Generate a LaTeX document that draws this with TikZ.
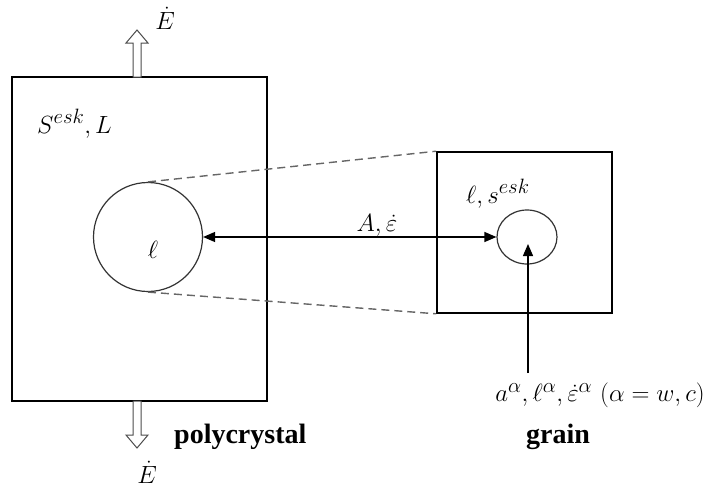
\documentclass[tikz,border=0pt]{standalone}
\usepackage{fontspec}
\setmainfont{Liberation Serif}
\usetikzlibrary{arrows.meta,shapes.geometric}
\tikzset{
  boxframe/.style={draw, line width=1.6pt, inner sep=0pt},
  dashlink/.style={draw=black!60, line width=1.4pt, dash pattern=on 8pt off 5pt},
  arr/.style={line width=1.3pt, -{Triangle[length=12pt,width=10pt]}},
  dblarr/.style={line width=1.3pt, {Triangle[length=12pt,width=10pt]}-{Triangle[length=12pt,width=10pt]}},
  hollow/.style={draw=black!70, line width=1pt, fill=white},
  mathlbl/.style={inner sep=0pt, font=\fontsize{29}{33}\selectfont},
  boldlbl/.style={inner sep=0pt, font=\fontsize{28}{32}\selectfont\bfseries},
}
\begin{document}
\begin{tikzpicture}[x=1pt,y=-1pt]
\useasboundingbox (0,0) rectangle (728,490);
% frames
\node[boxframe, minimum width=255pt, minimum height=324pt] (poly) at (139.5,239) {};
\node[boxframe, minimum width=175pt, minimum height=161pt] (grainbox) at (524.5,232.5) {};
% circles
\node[draw=black!80, line width=1.2pt, circle, minimum size=109pt, inner sep=0pt] (lc) at (148,237) {};
\node[draw=black!80, line width=1.2pt, ellipse, minimum width=60pt, minimum height=54pt, inner sep=0pt] (gc) at (527,237) {};
% dashed links
\draw[dashlink] (lc.north) -- (grainbox.north west);
\draw[dashlink] (lc.south) -- (grainbox.south west);
% arrows
\draw[dblarr] (lc.east) -- (gc.west);
\coordinate (vb) at (528,373);
\coordinate (vt) at (528,244);
\draw[arr] (vb) -- (vt);
% hollow arrows
\draw[hollow] (133,77) -- (133,43) -- (126,43) -- (137,30) -- (148,43) -- (141,43) -- (141,77) -- cycle;
\draw[hollow] (133,401) -- (133,435) -- (126,435) -- (137,448) -- (148,435) -- (141,435) -- (141,401) -- cycle;
% labels
\node[mathlbl] (Etop) at (165,18) {$\dot{E}$};
\node[mathlbl] (Ebot) at (147,472) {$\dot{E}$};
\node[mathlbl, anchor=base west] (SL) at (37,133) {$S^{esk},L$};
\node[mathlbl] (ell) at (153,250) {$\ell$};
\node[mathlbl, anchor=base] (Ae) at (377,231) {$A,\dot{\varepsilon}$};
\node[mathlbl, anchor=base west] (ls) at (466,203) {$\ell,s^{esk}$};
\node[inner sep=0pt, font=\fontsize{32}{36}\selectfont] (formula) at (600,395) {$a^{\alpha},\ell^{\alpha},\dot{\varepsilon}^{\alpha}\ (\alpha=w,c)$};
\node[boldlbl, anchor=west] (polylbl) at (174,437) {polycrystal};
\node[boldlbl] (grainlbl) at (558,437) {grain};
\end{tikzpicture}
\end{document}
